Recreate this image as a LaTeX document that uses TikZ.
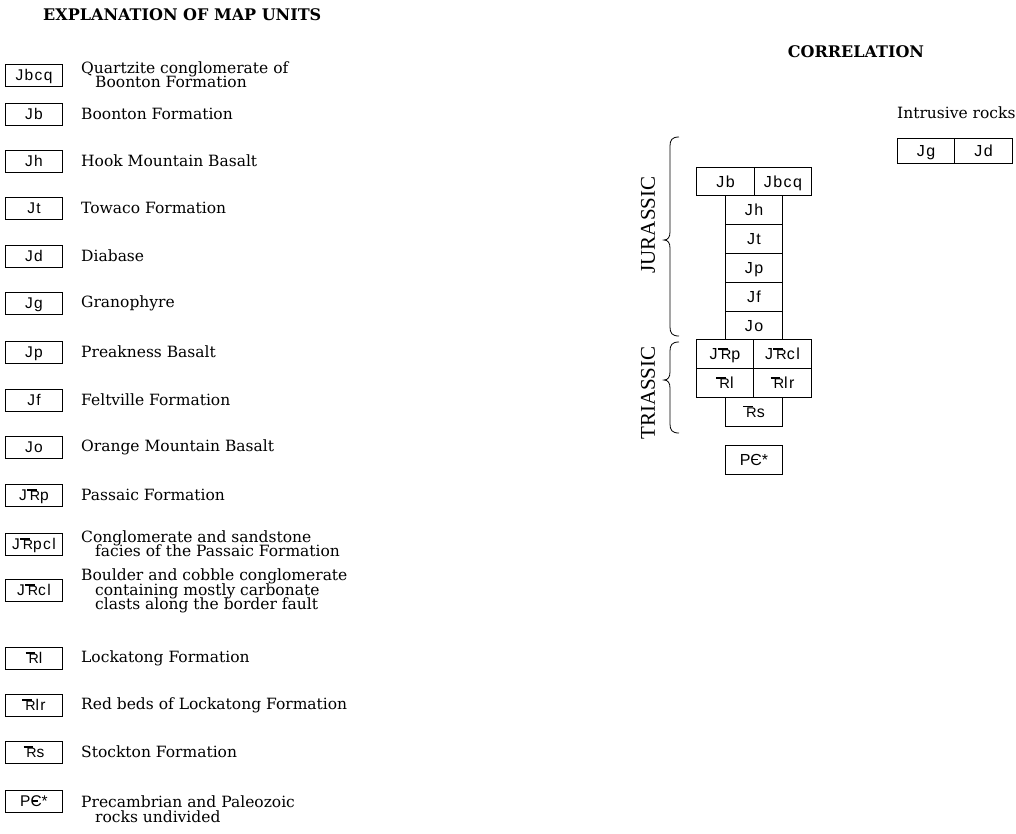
\documentclass[tikz,border=0pt]{standalone}
\usepackage{fontspec}
\usepackage{graphicx}
\setmainfont{DejaVu Serif}
\newfontfamily\labfont[LetterSpace=9]{Liberation Sans}
\newfontfamily\periodfont{Liberation Serif}
\newcommand\Trs{\rlap{\rule[0.64em]{0.62em}{0.09em}}\kern0.19em\scalebox{0.92}[0.88]{R}}
\newcommand\Cmb{\makebox[0.72em][l]{C\kern-0.6em\rule[0.33em]{0.36em}{0.085em}}}
\newcommand\tightlines{\lineskiplimit=-20pt\relax\lineskip=0pt\relax}
\tikzset{
  legbox/.style={draw, line width=0.8pt, minimum width=57pt, minimum height=22pt, inner sep=0pt,
    text height=11.2pt, text depth=0pt, font=\labfont\fontsize{15.5}{15.5}\selectfont},
  desc/.style={anchor=west, align=left, inner sep=0pt,
    font=\fontsize{15.5}{14.5}\selectfont\tightlines},
  corbox/.style={draw, line width=0.8pt, inner sep=0pt, minimum height=28.8pt, minimum width=57.5pt,
    text height=11.5pt, text depth=0pt, font=\labfont\fontsize{16}{16}\selectfont},
  heading/.style={inner sep=0pt, font=\bfseries\fontsize{16}{16}\selectfont},
  period/.style={rotate=90, inner sep=0pt, font=\periodfont\fontsize{21}{21}\selectfont},
  brace/.style={line width=0.8pt}
}
\begin{document}
\begin{tikzpicture}[x=1pt,y=-1pt]
\useasboundingbox (0,0) rectangle (1016,833);
% ---------- explanation ----------
\node[heading, anchor=west] (title) at (43,15) {EXPLANATION OF MAP UNITS};
\node[legbox] (Ljbcq) at (34,75) {Jbcq};
\node[desc] (Djbcq) at (81,74.5) {Quartzite conglomerate of\\\hspace*{14pt}Boonton Formation};
\node[legbox] (Ljb) at (34,114) {Jb};
\node[desc] (Djb) at (81,114) {Boonton Formation};
\node[legbox] (Ljh) at (34,161) {Jh};
\node[desc] (Djh) at (81,161) {Hook Mountain Basalt};
\node[legbox] (Ljt) at (34,208) {Jt};
\node[desc] (Djt) at (81,208) {Towaco Formation};
\node[legbox] (Ljd) at (34,256) {Jd};
\node[desc] (Djd) at (81,256) {Diabase};
\node[legbox] (Ljg) at (34,303) {Jg};
\node[desc] (Djg) at (81,303) {Granophyre};
\node[legbox] (Ljp) at (34,352) {Jp};
\node[desc] (Djp) at (81,352) {Preakness Basalt};
\node[legbox] (Ljf) at (34,400) {Jf};
\node[desc] (Djf) at (81,400) {Feltville Formation};
\node[legbox] (Ljo) at (34,447) {Jo};
\node[desc] (Djo) at (81,447) {Orange Mountain Basalt};
\node[legbox] (Ljtrp) at (34,495) {J\Trs p};
\node[desc] (Djtrp) at (81,495) {Passaic Formation};
\node[legbox] (Ljtrpcl) at (34,544) {J\Trs pcl};
\node[desc] (Djtrpcl) at (81,543.5) {Conglomerate and sandstone\\\hspace*{14pt}facies of the Passaic Formation};
\node[legbox] (Ljtrcl) at (34,590) {J\Trs cl};
\node[desc] (Djtrcl) at (81,591) {Boulder and cobble conglomerate\\\hspace*{14pt}containing mostly carbonate\\\hspace*{14pt}clasts along the border fault};
\node[legbox] (Ltrl) at (34,658) {\Trs l};
\node[desc] (Dtrl) at (81,658) {Lockatong Formation};
\node[legbox] (Ltrlr) at (34,705) {\Trs lr};
\node[desc] (Dtrlr) at (81,705) {Red beds of Lockatong Formation};
\node[legbox] (Ltrs) at (34,752) {\Trs s};
\node[desc] (Dtrs) at (81,752) {Stockton Formation};
\node[legbox] (Lpc) at (34,801) {P\Cmb*};
\node[desc] (Dpc) at (81,809) {Precambrian and Paleozoic\\\hspace*{14pt}rocks undivided};
% ---------- correlation ----------
\node[heading] (corr) at (856,52) {CORRELATION};
\node[desc] (intr) at (897,113) {Intrusive rocks};
\node[corbox, minimum height=25pt] (Cjg) at (926,151) {Jg};
\node[corbox, minimum height=25pt] (Cjd) at (983.5,151) {Jd};
\node[corbox] (Cjb) at (725.5,181.4) {Jb};
\node[corbox] (Cjbcq) at (783,181.4) {Jbcq};
\node[corbox] (Cjh) at (754,210.2) {Jh};
\node[corbox] (Cjt) at (754,239) {Jt};
\node[corbox] (Cjp) at (754,267.8) {Jp};
\node[corbox] (Cjf) at (754,296.6) {Jf};
\node[corbox] (Cjo) at (754,325.4) {Jo};
\node[corbox] (Cjtrp) at (725,354.2) {J\Trs p};
\node[corbox] (Cjtrcl) at (782.5,354.2) {J\Trs cl};
\node[corbox] (Ctrl) at (725,383) {\Trs l};
\node[corbox] (Ctrlr) at (782.5,383) {\Trs lr};
\node[corbox] (Ctrs) at (754,411.8) {\Trs s};
\node[corbox] (Cpc) at (754,459.5) {P\Cmb*};
% braces
\draw[brace] (679,137) .. controls (672,137) and (670,140) .. (670,146) -- (670,232)
  .. controls (670,237) and (668,240) .. (664,240) .. controls (668,240) and (670,243) .. (670,248)
  -- (670,327) .. controls (670,333) and (672,336) .. (679,336);
\draw[brace] (679,342) .. controls (672,342) and (670,345) .. (670,351) -- (670,372)
  .. controls (670,377) and (668,380) .. (664,380) .. controls (668,380) and (670,383) .. (670,388)
  -- (670,424) .. controls (670,430) and (672,433) .. (679,433);
\node[period] (jur) at (648,225) {JURASSIC};
\node[period] (tri) at (648,393) {TRIASSIC};
\end{tikzpicture}
\end{document}
